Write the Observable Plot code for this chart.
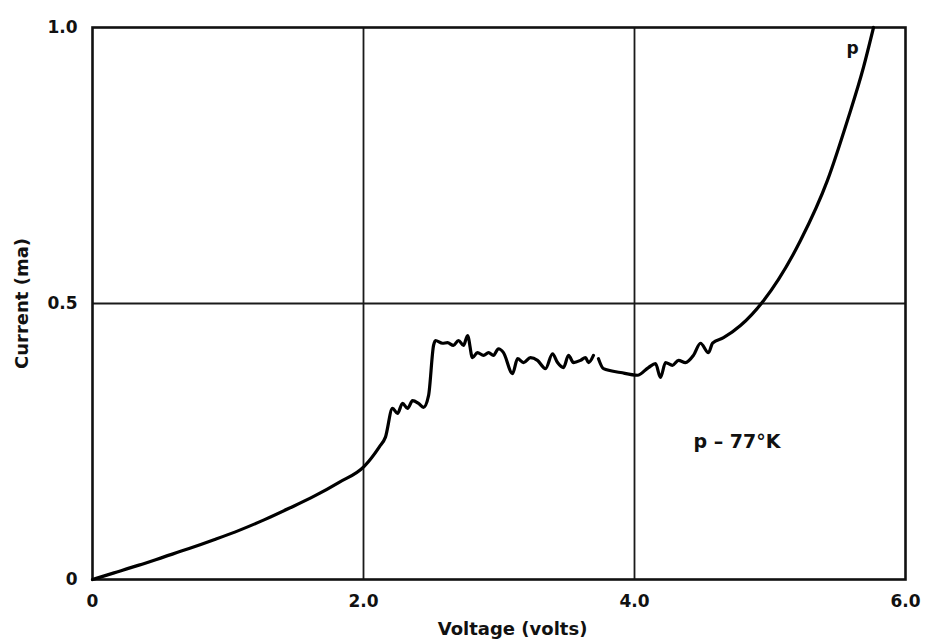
<!DOCTYPE html>
<html>
<head>
<meta charset="utf-8">
<script src="https://cdn.jsdelivr.net/npm/d3@7"></script>
<script src="https://cdn.jsdelivr.net/npm/@observablehq/plot@0.6"></script>
<style>
  html, body { margin: 0; padding: 0; background: #fff; }
  #chart svg { display: block; }
</style>
</head>
<body>
<div id="chart"></div>
<script>
// Voltage (volts)
const voltage = [
  0, 0.159, 0.343, 0.528, 0.713, 0.897, 1.082, 1.266, 1.451, 1.636,
  1.820, 2.005, 2.116, 2.162, 2.214,
  2.251, 2.288, 2.325, 2.362, 2.406, 2.443, 2.480, 2.517, 2.531, 2.583,
  2.620, 2.664, 2.701, 2.738, 2.768, 2.804, 2.841, 2.886, 2.923, 2.959,
  2.996, 3.033, 3.100, 3.137, 3.181, 3.232, 3.284, 3.343, 3.395, 3.432,
  3.476, 3.513, 3.550, 3.601, 3.638, 3.661, 3.697,
  3.734, 3.771, 3.897, 4.022, 4.103, 4.155, 4.192, 4.229, 4.280, 4.325,
  4.376, 4.435, 4.487, 4.546, 4.576, 4.657, 4.782, 4.952, 5.225, 5.424,
  5.572, 5.690, 5.764
];
// Current (ma)
const current = [
  0, 0.012, 0.026, 0.041, 0.056, 0.072, 0.089, 0.108, 0.129, 0.151,
  0.176, 0.205, 0.240, 0.258, 0.310,
  0.301, 0.319, 0.310, 0.324, 0.319, 0.312, 0.333, 0.424, 0.433, 0.428,
  0.429, 0.424, 0.433, 0.424, 0.442, 0.402, 0.411, 0.406, 0.411, 0.406,
  0.418, 0.411, 0.373, 0.400, 0.393, 0.402, 0.397, 0.382, 0.409, 0.393,
  0.384, 0.406, 0.393, 0.397, 0.402, 0.393, 0.406,
  0.400, 0.382, 0.375, 0.370, 0.384, 0.391, 0.366, 0.393, 0.388, 0.397,
  0.393, 0.406, 0.428, 0.411, 0.428, 0.438, 0.460, 0.505, 0.614, 0.723,
  0.832, 0.928, 1.0
];
// trace piece (the recorder trace has a small break near 3.7 V)
const trace = [
  1,1,1,1,1,1,1,1,1,1, 1,1,1,1,1,
  1,1,1,1,1,1,1,1,1,1, 1,1,1,1,1,1,1,1,1,1,
  1,1,1,1,1,1,1,1,1,1, 1,1,1,1,1,1,1,
  2,2,2,2,2,2,2,2,2,2, 2,2,2,2,2,2,2,2,2,2, 2,2,2
];

const xTicks = [0, 2, 4, 6];
const xTickLabels = ["0", "2.0", "4.0", "6.0"];
const yTicks = [0, 0.5, 1.0];
const yTickLabels = ["0", "0.5", "1.0"];
const xGrid = [2, 4];
const yGrid = [0.5];

const notes = ["p", "p \u2013 77\u00B0K"];
const noteX = [5.565, 4.435];
const noteY = [0.962, 0.25];

const xTitle = "Voltage (volts)";
const yTitle = "Current (ma)";

const data = voltage.map((v, i) => ({v, c: current[i], t: trace[i]}));
const noteData = notes.map((s, i) => ({s, x: noteX[i], y: noteY[i]}));

const font = "'DejaVu Sans', sans-serif";

const chart = Plot.plot({
  width: 928,
  height: 643,
  marginLeft: 92,
  marginRight: 23,
  marginTop: 27,
  marginBottom: 64,
  style: {fontFamily: font, background: "#fff", color: "#111"},
  x: {domain: [0, 6]},
  y: {domain: [0, 1]},
  marks: [
    Plot.ruleX(xGrid, {stroke: "#1a1a1a", strokeWidth: 1.8}),
    Plot.ruleY(yGrid, {stroke: "#1a1a1a", strokeWidth: 1.8}),
    Plot.frame({stroke: "#111", strokeWidth: 2.6}),
    Plot.line(data, {x: "v", y: "c", z: "t", stroke: "#000", strokeWidth: 3.2,
      curve: "monotone-x", strokeLinejoin: "round", strokeLinecap: "round"}),
    Plot.text(noteData.slice(0, 1), {x: "x", y: "y", text: "s", textAnchor: "start",
      fontSize: 17, fontWeight: "bold", fill: "#111"}),
    Plot.text(noteData.slice(1), {x: "x", y: "y", text: "s", textAnchor: "start",
      fontSize: 19, fontWeight: "bold", fill: "#111", style: {letterSpacing: "0.6px"}}),
    Plot.axisX({ticks: xTicks, tickFormat: (d) => xTickLabels[xTicks.indexOf(d)],
      tickSize: 0, tickPadding: 15, label: null, fontSize: 17, fontWeight: "bold"}),
    Plot.axisY({ticks: yTicks, tickFormat: (d) => yTickLabels[yTicks.indexOf(d)],
      tickSize: 0, tickPadding: 15, label: null, fontSize: 17, fontWeight: "bold"}),
    Plot.text([xTitle], {x: () => 3.1, text: d => d, frameAnchor: "bottom", dy: 55,
      textAnchor: "middle", fontSize: 18, fontWeight: "bold", fill: "#111"}),
    Plot.text([yTitle], {text: d => d, frameAnchor: "left", dx: -70, rotate: -90,
      textAnchor: "middle", lineAnchor: "middle",
      fontSize: 18, fontWeight: "bold", fill: "#111"})
  ]
});

document.getElementById("chart").appendChild(chart);
</script>
</body>
</html>
